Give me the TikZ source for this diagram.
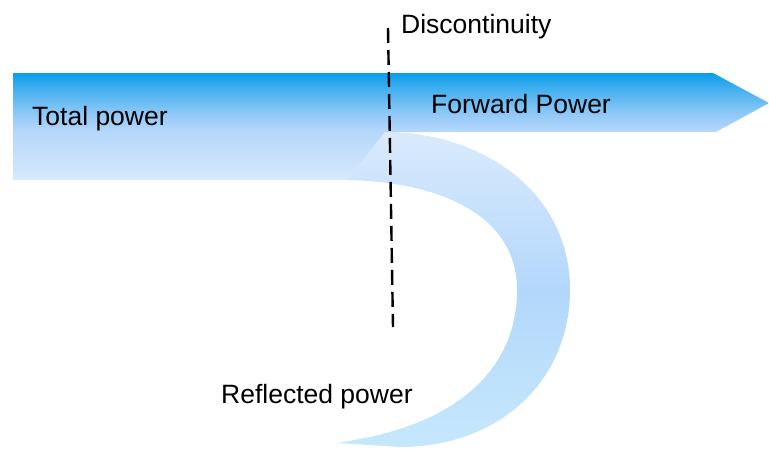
\documentclass[tikz,border=0pt]{standalone}
\usepackage{fontspec}
\setmainfont{Liberation Sans}
\definecolor{bartop}{HTML}{0A9DE9}
\definecolor{barhigh}{HTML}{4FB4F1}
\definecolor{barup}{HTML}{8FC8F7}
\definecolor{barmid}{HTML}{B5D7FB}
\definecolor{barlow}{HTML}{D7E9FD}
\definecolor{bandtop}{HTML}{DAEAFD}
\definecolor{bandmid}{HTML}{B3D7FB}
\definecolor{bandlow}{HTML}{C6E8FD}
\pgfdeclareverticalshading{barshade}{100bp}{%
  color(0bp)=(barlow); color(25bp)=(barlow); color(48bp)=(barmid);
  color(56bp)=(barup); color(66bp)=(barhigh); color(75bp)=(bartop); color(100bp)=(bartop)}
\pgfdeclareverticalshading{bandshade}{100bp}{%
  color(0bp)=(bandlow); color(25bp)=(bandlow); color(50bp)=(bandmid);
  color(75bp)=(bandtop); color(100bp)=(bandtop)}
\begin{document}
\begin{tikzpicture}[x=1pt,y=-1pt,
  lbl/.style={anchor=base west,inner sep=0pt,font=\fontsize{26.5}{31}\selectfont},
  cut/.style={line width=2.4pt,dash pattern=on 15pt off 7pt}]
\useasboundingbox (0,0) rectangle (769,450);
% main bar with forward arrow
\shade[shading=barshade]
  (13,73) -- (713,73) -- (769,103) -- (716,132) -- (385,132)
  -- (348,180) -- (13,180) -- cycle;
% reflected band
\shade[shading=bandshade]
  (348,180) -- (385,132)
  .. controls (480,132) and (570,190) .. (570,290)
  .. controls (570,380) and (500,447) .. (400,447)
  -- (338,443) -- (370,437)
  .. controls (470,415) and (517,360) .. (517,290)
  .. controls (517,215) and (440,182) .. cycle;
% discontinuity
\coordinate (dtop) at (388,28);
\coordinate (dbot) at (393,327);
\draw[cut] (dtop) -- (dbot);
% labels
\node[lbl] (disc) at (401,33) {Discontinuity};
\node[lbl] (total) at (32,125) {Total power};
\node[lbl] (fwd) at (431,113) {Forward Power};
\node[lbl] (refl) at (221,403) {Reflected power};
\end{tikzpicture}
\end{document}
